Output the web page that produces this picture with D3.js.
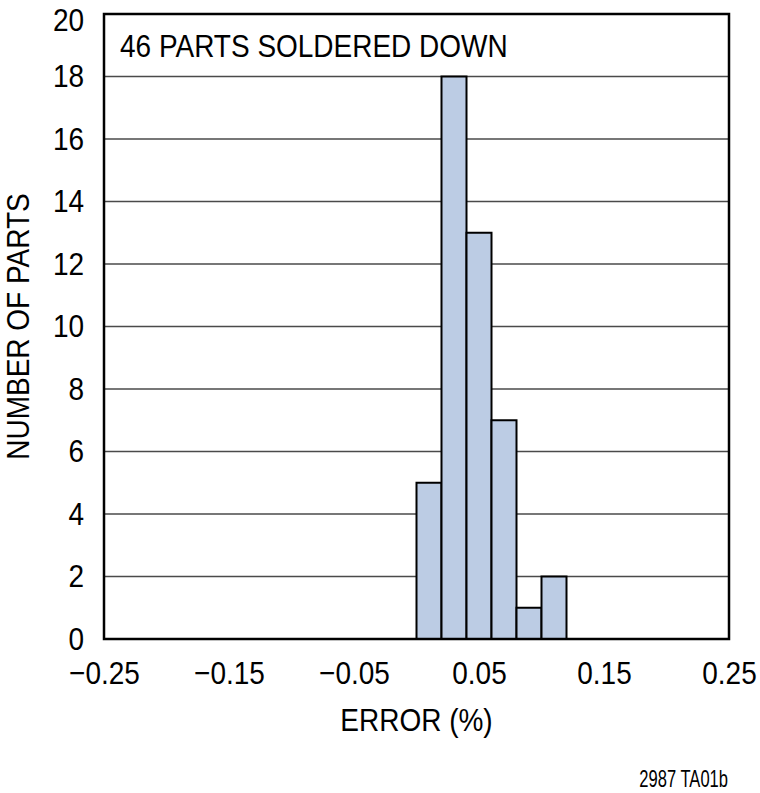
<!DOCTYPE html>
<html>
<head>
<style type="text/css">
body { margin: 0; background: #fff; }
text {
	font-family: "Liberation Sans", Arial, sans-serif;
	fill: #000;
}
.grid line {
	stroke: #4a4a4a;
	stroke-width: 1.3;
}
.bar {
	fill: #bccce4;
	stroke: #000;
	stroke-width: 2;
}
.frame {
	fill: none;
	stroke: #000;
	stroke-width: 2.5;
}
</style>
<script src="https://d3js.org/d3.v7.min.js"></script>
</head>
<body>
<script type="text/javascript">
// histogram: left edge of each bin (%) and how many parts fell in it
var binStart = [0.00, 0.02, 0.04, 0.06, 0.08, 0.10];
var binWidth = 0.02;
var counts   = [5, 18, 13, 7, 1, 2];

var xTicks = [-0.25, -0.15, -0.05, 0.05, 0.15, 0.25];
var xTickLabels = ["\u22120.25", "\u22120.15", "\u22120.05", "0.05", "0.15", "0.25"];
var yTicks = [0, 2, 4, 6, 8, 10, 12, 14, 16, 18, 20];

var width  = 760;
var height = 793;
var mLeft = 104, mTop = 14, mRight = 729, mBottom = 639;
var squeeze = 0.875; // condensed look: Liberation Sans squeezed sideways

var svg = d3.select("body").append("svg").attr("width", width).attr("height", height);

var x = d3.scaleLinear().domain([-0.25, 0.25]).range([mLeft, mRight]);
var y = d3.scaleLinear().domain([0, 20]).range([mBottom, mTop]);

// horizontal grid
svg.append("g").attr("class", "grid")
	.selectAll("line").data(yTicks.slice(1, -1)).enter().append("line")
	.attr("x1", mLeft).attr("x2", mRight)
	.attr("y1", function(d){ return y(d); })
	.attr("y2", function(d){ return y(d); });

// bars
svg.selectAll("rect.bar").data(counts).enter().append("rect")
	.attr("class", "bar")
	.attr("x", function(d, i){ return x(binStart[i]); })
	.attr("width", function(d, i){ return x(binStart[i] + binWidth) - x(binStart[i]); })
	.attr("y", function(d){ return y(d); })
	.attr("height", function(d){ return y(0) - y(d); });

svg.append("rect").attr("class", "frame")
	.attr("x", mLeft).attr("y", mTop)
	.attr("width", mRight - mLeft).attr("height", mBottom - mTop);

// axes, drawn with d3 but with no domain / tick marks
var yAxis = d3.axisLeft(y).tickValues(yTicks).tickSize(0).tickPadding(20);
var gy = svg.append("g").attr("transform", "translate(" + mLeft + ",0)").call(yAxis);
gy.attr("font-family", null).attr("font-size", null);
gy.select(".domain").remove();
gy.selectAll("text").style("font-size", "32px")
	.attr("x", -20 / squeeze)
	.attr("transform", function(d){
		// top label sits a little lower so it stays inside the page
		return (d === 20 ? "translate(0,6) " : "") + "scale(" + squeeze + ",1)";
	});

var xAxis = d3.axisBottom(x).tickValues(xTicks).tickSize(0).tickPadding(22)
	.tickFormat(function(d, i){ return xTickLabels[i]; });
var gx = svg.append("g").attr("transform", "translate(0," + mBottom + ")").call(xAxis);
gx.attr("font-family", null).attr("font-size", null);
gx.select(".domain").remove();
gx.selectAll("text").style("font-size", "32px")
	.attr("transform", "scale(" + squeeze + ",1)");

function label(px, py, str, size, anchor, rot, sq) {
	svg.append("text")
		.attr("transform", "translate(" + px + "," + py + ")" + (rot ? " rotate(" + rot + ")" : "") + " scale(" + (sq || squeeze) + ",1)")
		.attr("text-anchor", anchor)
		.style("font-size", size + "px")
		.text(str);
}

label((mLeft + mRight) / 2, 731, "ERROR (%)", 32, "middle");
label(29, (mTop + mBottom) / 2, "NUMBER OF PARTS", 32, "middle", -90);
label(120, 57, "46 PARTS SOLDERED DOWN", 32, "start");
label(728, 787, "2987 TA01b", 23, "end", 0, 0.72);
</script>
</body>
</html>
